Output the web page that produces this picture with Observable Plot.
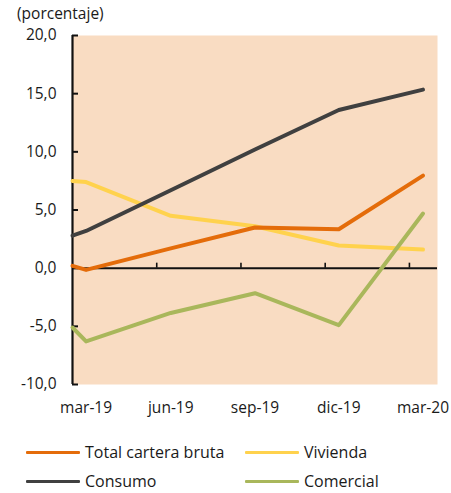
<!DOCTYPE html>
<html><head><meta charset="utf-8">
<script src="https://cdn.jsdelivr.net/npm/d3@7"></script>
<script src="https://cdn.jsdelivr.net/npm/@observablehq/plot@0.6"></script>
<style>
body{margin:0;background:#fff;font-family:"Open Sans",sans-serif;color:#1a1a1a;}
#wrap{position:relative;width:451px;height:493px;overflow:hidden;}
#title{position:absolute;left:17px;top:2px;font-size:15.5px;line-height:22px;}
#chart{position:absolute;left:0;top:20px;}
.item{position:absolute;display:flex;align-items:center;font-size:16px;line-height:22px;height:22px;}
.sw{width:54px;height:3px;margin-right:5px;border-radius:1px;}
</style>
</head><body>
<div id="wrap">
  <div id="title">(porcentaje)</div>
  <div id="chart"></div>
  <div id="legend"></div>
</div>
<script>
const dates = ["2019-03-01","2019-03-16","2019-06-16","2019-09-16","2019-12-16","2020-03-16"];
const total = [0.2, -0.15, 1.7, 3.5, 3.35, 7.95];
const vivienda = [7.5, 7.4, 4.5, 3.6, 1.95, 1.6];
const consumo = [2.8, 3.2, 6.7, 10.2, 13.6, 15.35];
const comercial = [-5.1, -6.3, -3.85, -2.15, -4.9, 4.7];
const seriesNames = ["Total cartera bruta", "Vivienda", "Consumo", "Comercial"];
const colors = ["#E46C0A", "#FFD24D", "#404040", "#A9B75B"];
const yTicks = [-10, -5, 0, 5, 10, 15, 20];
const xLabelDates = ["2019-03-16","2019-06-16","2019-09-16","2019-12-16","2020-03-16"];
const xLabels = ["mar-19","jun-19","sep-19","dic-19","mar-20"];
const xTickDates = ["2019-06-01","2019-09-01","2019-12-01","2020-03-01"];
const xDomain = ["2019-03-01","2020-04-01"];

// months as equal-width units (like a monthly date axis)
function monthNum(s){
  const [y,m,d] = s.split("-").map(Number);
  const dim = new Date(Date.UTC(y, m, 0)).getUTCDate();
  return y*12 + (m-1) + (d-1)/dim;
}
const seriesValues = [total, vivienda, consumo, comercial];
const rows = (vals) => dates.map((d,i) => ({x: monthNum(d), v: vals[i]}));
const labelMap = new Map(xLabelDates.map((d,i) => [monthNum(d), xLabels[i]]));
const x0 = monthNum(xDomain[0]);
const fmt = d => d.toFixed(1).replace(".", ",");
const drawOrder = [1, 0, 2, 3];

const plot = Plot.plot({
  width: 451, height: 404,
  marginLeft: 72, marginRight: 14, marginTop: 15, marginBottom: 40,
  style: {fontFamily: "Open Sans, sans-serif", fontSize: "15px", color: "#1a1a1a", background: "transparent", overflow: "visible"},
  x: {type: "linear", domain: xDomain.map(monthNum), label: null},
  y: {domain: [-10, 20], label: null},
  marks: [
    Plot.frame({fill: "#F9DCC2", stroke: "none"}),
    Plot.ruleY([0], {stroke: "#111", strokeWidth: 2}),
    Plot.ruleX(xTickDates.map(monthNum), {x: d => d, y1: 0, y2: 0, insetTop: -5, stroke: "#111", strokeWidth: 1.6}),
    Plot.ruleX([x0], {stroke: "#111", strokeWidth: 2.2}),
    Plot.ruleY(yTicks, {y: d => d, x1: x0, x2: x0, insetRight: -6, stroke: "#111", strokeWidth: 2}),
    Plot.axisY({ticks: yTicks, tickSize: 0, tickPadding: 16, tickFormat: fmt, fontSize: 15.5, label: null}),
    Plot.axisX({ticks: xLabelDates.map(monthNum), tickSize: 0, tickPadding: 17, tickFormat: d => labelMap.get(d), fontSize: 15.5, label: null}),
    ...drawOrder.map(k => Plot.line(rows(seriesValues[k]), {x: "x", y: "v", stroke: colors[k], strokeWidth: 4}))
  ]
});
document.getElementById("chart").appendChild(plot);

const legendPos = [[26, 441], [245, 441], [26, 470], [245, 470]];
const legendOrder = [0, 1, 2, 3];
const legendColors = ["#E46C0A", "#FFD24D", "#404040", "#A9B75B"];
const leg = document.getElementById("legend");
legendOrder.forEach((k, j) => {
  const it = document.createElement("div");
  it.className = "item";
  it.style.left = legendPos[j][0] + "px";
  it.style.top = legendPos[j][1] + "px";
  const sw = document.createElement("div");
  sw.className = "sw";
  sw.style.background = legendColors[k];
  const tx = document.createElement("span");
  tx.textContent = seriesNames[k];
  it.appendChild(sw); it.appendChild(tx);
  leg.appendChild(it);
});
</script>
</body></html>
